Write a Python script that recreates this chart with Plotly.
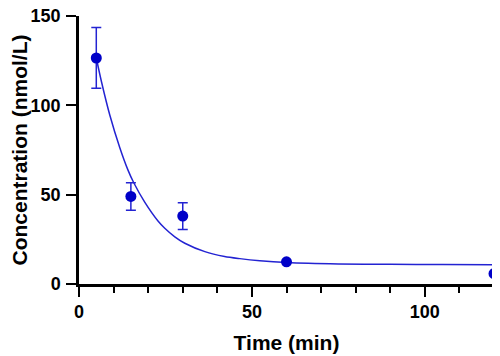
import plotly.graph_objects as go

# Measured data (mean ± SD)
time_min = [5, 15, 30, 60, 120]
conc = [126.5, 49.0, 38.0, 12.4, 5.8]
conc_err = [17.0, 7.7, 7.5, 0.0, 0.0]

# Fitted decay curve
fit_time = [5, 6.5, 8.9, 11.8, 14.2, 15.8, 19, 22.9, 24.8, 27.7, 30.6, 36.4,
            42.1, 46.5, 52.3, 60, 75, 90, 105, 120]
fit_conc = [126.5, 113.2, 94.6, 76.3, 63.6, 56.8, 45.8, 35.1, 31.2, 26.4, 22.8,
            18.1, 15.4, 14.2, 13.0, 12.0, 11.2, 11.0, 10.9, 10.8]

x_major_ticks = [0, 50, 100]
x_minor_ticks = [10, 20, 30, 40, 60, 70, 80, 90, 110, 120]
y_tickvals = [0, 50, 100, 150]

blue = "#0000c8"
line_blue = "#2323d2"

fig = go.Figure()
fig.add_trace(go.Scatter(
    x=fit_time, y=fit_conc, mode="lines",
    line=dict(color=line_blue, width=1.5, shape="spline", smoothing=0.8),
    hoverinfo="skip", cliponaxis=False,
))
fig.add_trace(go.Scatter(
    x=time_min, y=conc, mode="markers",
    marker=dict(color=blue, size=11, line=dict(width=0)),
    error_y=dict(type="data", array=conc_err, visible=True,
                 color=line_blue, thickness=1.5, width=5),
    cliponaxis=False,
))

font_family = "Liberation Sans, Arial, sans-serif"

# the page body adds an 8px offset, so the figure is sized/margined to compensate
fig.update_layout(
    width=492, height=348,
    margin=dict(l=71, r=6, t=8, b=72),
    paper_bgcolor="white", plot_bgcolor="white",
    showlegend=False,
    font=dict(family=font_family, size=18, color="black", weight="bold"),
    xaxis=dict(
        range=[0, 120], tickmode="array", tickvals=x_major_ticks,
        automargin=False, ticklabeloverflow="allow",
        showgrid=False, zeroline=False,
        showline=True, linecolor="black", linewidth=2.5,
        ticks="outside", ticklen=10, tickwidth=2, tickcolor="black",
        minor=dict(tickmode="array", tickvals=x_minor_ticks, ticks="outside",
                   ticklen=6, tickwidth=2, tickcolor="black", showgrid=False),
        tickfont=dict(size=18, family=font_family, weight="bold"),
        title=dict(text="Time (min)", standoff=14,
                   font=dict(size=21, family=font_family, weight="bold")),
    ),
    yaxis=dict(
        range=[0, 150], tickmode="array", tickvals=y_tickvals,
        automargin=False, ticklabeloverflow="allow",
        showgrid=False, zeroline=False,
        showline=True, linecolor="black", linewidth=2.5,
        ticks="outside", ticklen=10, tickwidth=2, tickcolor="black",
        ticklabelstandoff=2,
        tickfont=dict(size=18, family=font_family, weight="bold"),
        title=dict(text="Concentration (nmol/L)", standoff=2,
                   font=dict(size=21, family=font_family, weight="bold")),
    ),
)

fig.write_html("out.html")
